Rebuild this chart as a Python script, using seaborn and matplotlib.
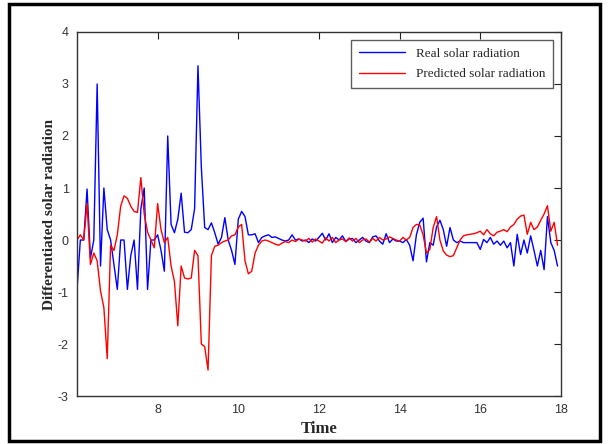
import matplotlib
matplotlib.use("Agg")
import matplotlib.pyplot as plt
import numpy as np
import pandas as pd
import seaborn as sns

# time axis: 5-minute steps from 6:00 to 17:55
time = [6 + i / 12 for i in range(144)]

real = [
    -0.95, 0.0, 0.0, 0.98, -0.35, 0.0, 3.0, -0.5, 1.0, 0.2,
    0.0, -0.47, -0.95, 0.0, 0.0, -0.95, -0.3, 0.0, -0.95, 0.6,
    1.0, -0.95, 0.0, 0.0, 0.1, -0.2, -0.6, 2.0, 0.3, 0.14,
    0.4, 0.9, 0.15, 0.14, 0.2, 0.6, 3.35, 1.4, 0.24, 0.2,
    0.33, 0.14, -0.08, 0.05, 0.43, 0.0, -0.2, -0.47, 0.4, 0.55,
    0.45, 0.1, 0.1, 0.12, -0.05, 0.05, 0.08, 0.1, 0.05, 0.06,
    0.03, 0.0, -0.02, 0.0, 0.1, 0.0, 0.02, -0.02, 0.0, -0.05,
    0.02, -0.02, 0.05, 0.13, 0.0, 0.12, -0.05, 0.05, 0.0, 0.08,
    -0.03, 0.02, 0.03, -0.05, 0.0, 0.05, -0.02, -0.05, 0.06, 0.08,
    -0.02, -0.08, 0.12, -0.05, 0.02, -0.02, -0.02, -0.05, 0.01, -0.1,
    -0.4, 0.1, 0.34, 0.42, -0.42, -0.05, -0.1, 0.25, 0.38, 0.2,
    -0.12, 0.24, 0.0, -0.05, -0.02, -0.05, -0.05, -0.05, -0.05, -0.05,
    -0.18, 0.01, -0.05, 0.05, -0.08, -0.02, -0.1, -0.02, -0.15, -0.05,
    -0.5, 0.11, -0.28, 0.0, -0.25, 0.08, -0.2, -0.5, -0.2, -0.57,
    0.45, -0.05, -0.2, -0.5,
]

predicted = [
    0.0, 0.1, 0.0, 0.7, -0.47, -0.25, -0.4, -0.98, -1.3, -2.28,
    -0.1, -0.2, 0.1, 0.65, 0.85, 0.8, 0.65, 0.55, 0.53, 1.2,
    0.5, 0.15, 0.0, -0.15, 0.7, 0.2, -0.05, 0.05, -0.5, -0.8,
    -1.65, -0.5, -0.73, -0.75, -0.73, -0.2, -0.3, -2.0, -2.05, -2.5,
    -0.3, -0.12, -0.1, -0.05, -0.02, 0.0, 0.08, 0.1, 0.25, 0.3,
    -0.4, -0.65, -0.6, -0.25, -0.1, -0.02, 0.0, -0.02, -0.05, -0.08,
    -0.1, -0.06, -0.03, -0.05, 0.0, -0.03, 0.02, 0.0, -0.02, 0.03,
    -0.04, 0.02, -0.02, -0.06, 0.04, -0.02, 0.05, -0.05, 0.0, 0.02,
    -0.03, 0.04, -0.02, 0.03, -0.05, 0.0, 0.02, -0.04, 0.03, -0.02,
    0.05, 0.0, 0.02, 0.06, 0.03, 0.0, -0.02, 0.05, 0.0, 0.05,
    0.24, 0.3, 0.29, 0.1, -0.25, -0.18, 0.24, 0.45, 0.0, -0.21,
    -0.29, -0.32, -0.3, -0.15, 0.0, 0.08, 0.1, 0.11, 0.12, 0.14,
    0.17, 0.1, 0.2, 0.12, 0.08, 0.15, 0.17, 0.2, 0.16, 0.25,
    0.3, 0.4, 0.46, 0.48, 0.11, 0.34, 0.2, 0.25, 0.38, 0.5,
    0.66, 0.17, 0.34, -0.1,
]

series_names = ["Real solar radiation", "Predicted solar radiation"]

df = pd.DataFrame({
    "Time": time + time,
    "value": real + predicted,
    "series": [series_names[0]] * len(time) + [series_names[1]] * len(time),
})

sns.set_style("white")
plt.rcParams["font.family"] = ["Liberation Sans", "DejaVu Sans"]
plt.rcParams["axes.unicode_minus"] = False

fig = plt.figure(figsize=(6.13, 4.44), dpi=100)
ax = fig.add_axes([0.1256, 0.108, 0.7894, 0.82])

sns.lineplot(data=df, x="Time", y="value", hue="series", estimator=None,
             palette={series_names[0]: "#0000ff", series_names[1]: "#ff0000"},
             linewidth=1.0, ax=ax)

ax.set_xlim(6, 18)
ax.set_ylim(-3, 4)
ax.set_xticks([8, 10, 12, 14, 16, 18])
ax.set_yticks(range(-3, 5))
ax.tick_params(direction="in", length=5, width=0.8, top=True, right=True,
               labelsize=9, colors="#222222", labelcolor="#333333", pad=6)
for s in ax.spines.values():
    s.set_color("#333333")
    s.set_linewidth(1.0)

ax.set_xlabel("Time", fontsize=12, fontweight="bold", family="Liberation Serif", labelpad=3)
ax.set_ylabel("Differentiated solar radiation", fontsize=11, fontweight="bold",
              family="Liberation Serif", labelpad=1)

leg = ax.legend(loc="upper right", frameon=True, fancybox=False, borderaxespad=0.6,
                prop={"family": "Liberation Serif", "size": 9.5}, handlelength=3.5,
                borderpad=0.6, labelspacing=0.6)
leg.get_frame().set_edgecolor("#333333")
leg.get_frame().set_linewidth(1.0)

# outer frame around the whole picture
fig.patches.append(plt.Rectangle((0.014, 0.007), 0.965, 0.985, transform=fig.transFigure,
                                 fill=False, edgecolor="black", linewidth=2.5))

fig.savefig("out.png", dpi=100)
